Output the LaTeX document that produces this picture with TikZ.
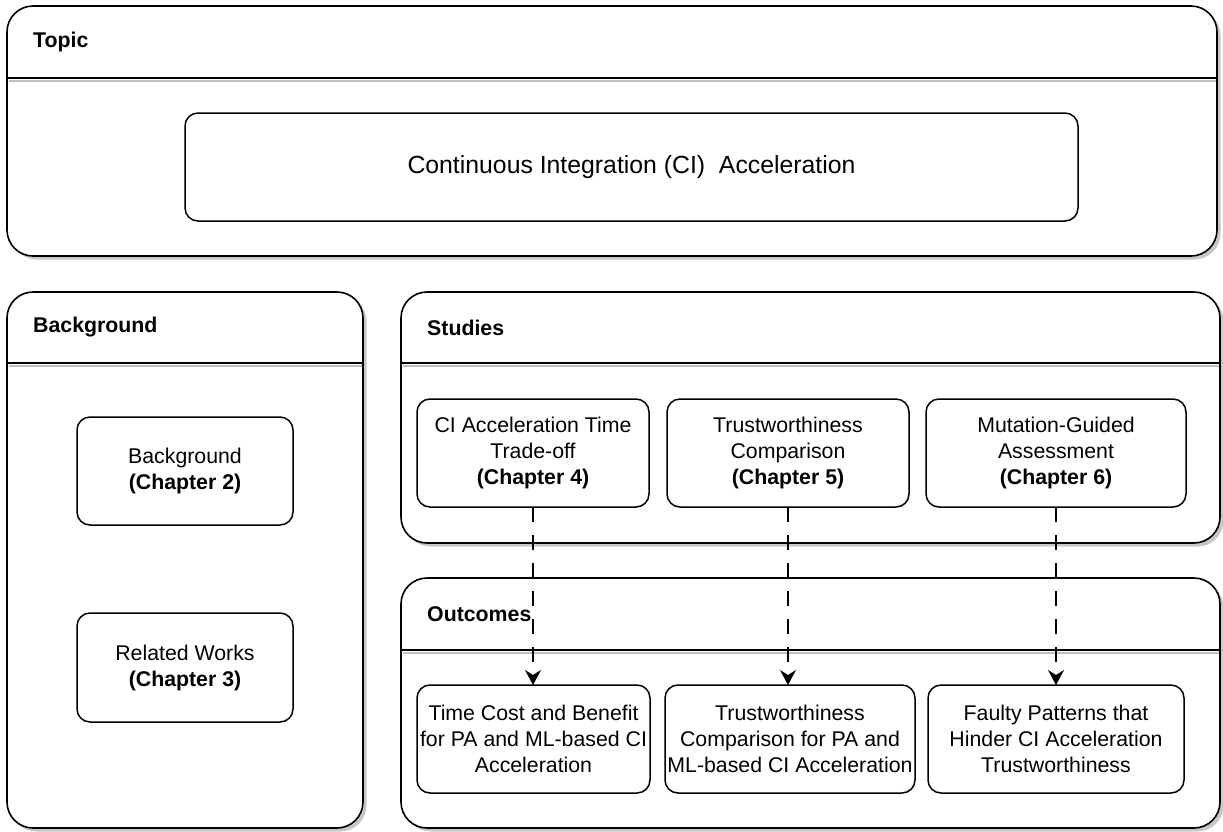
\documentclass[tikz,border=0pt]{standalone}
\usepackage{fontspec}
\setmainfont{Liberation Sans}
\usetikzlibrary{arrows.meta}
\newcommand\mylane[7]{%
  \fill[black!22, rounded corners=26pt] ({#2+3.5},{#3+3.5}) rectangle ({#4+3.5},{#5+3.5});
  \node[container, anchor=north west, minimum width={#4-#2}, minimum height={#5-#3}] (#1) at (#2,#3) {};
  \draw[black!25, line width=2.2pt] ({#2+1.5},{#6+3}) -- ({#4-1},{#6+3});
  \draw[line width=1.6pt] (#2,#6) -- (#4,#6);
  \node[lanetitle] (#1-title) at ({#2+26},{(#3+#6)/2}) {#7};
}
\begin{document}
\begin{tikzpicture}[x=1pt,y=-1pt,
  container/.style={draw=black, line width=1.6pt, fill=white, rounded corners=26pt, inner sep=0pt, outer sep=0pt},
  lanetitle/.style={font=\bfseries\fontsize{21.3}{26}\selectfont, anchor=west, inner sep=0pt},
  box/.style={draw=black, line width=1.5pt, rounded corners=13pt, fill=white, align=center,
    font=\fontsize{21.3}{26}\selectfont, inner sep=0pt, outer sep=0pt},
  flow/.style={line width=1.5pt, dash pattern=on 15pt off 13pt,
    -{Stealth[length=15pt,width=16pt,inset=5pt]}}
]
\useasboundingbox (0,0) rectangle (1223,831);

\mylane{topic}{7}{6}{1217}{256}{78}{Topic}
\mylane{background}{7}{292}{363}{828}{363}{Background}
\mylane{studies}{401}{292}{1220}{543}{363}{Studies}
\mylane{outcomes}{401}{578}{1220}{828}{650}{Outcomes}

\node[box, minimum width=893, minimum height=108, font=\fontsize{24.8}{30}\selectfont] (ci) at (631.5,167)
  {Continuous Integration (CI)\ \ Acceleration};

\node[box, minimum width=216, minimum height=108] (bg) at (185,471)
  {Background\\\textbf{(Chapter 2)}};
\node[box, minimum width=216, minimum height=109] (rw) at (185,667.5)
  {Related Works\\\textbf{(Chapter 3)}};

\node[box, minimum width=232, minimum height=108] (s1) at (533,453)
  {CI Acceleration Time\\Trade-off\\\textbf{(Chapter 4)}};
\node[box, minimum width=242, minimum height=108] (s2) at (788,453)
  {Trustworthiness\\Comparison\\\textbf{(Chapter 5)}};
\node[box, minimum width=260, minimum height=108] (s3) at (1056,453)
  {Mutation-Guided\\Assessment\\\textbf{(Chapter 6)}};

\node[box, minimum width=233, minimum height=108] (o1) at (533.5,739)
  {Time Cost and Benefit\\for PA and ML-based CI\\Acceleration};
\node[box, minimum width=250, minimum height=108] (o2) at (790,739)
  {Trustworthiness\\Comparison for PA and\\ML-based CI Acceleration};
\node[box, minimum width=256, minimum height=108] (o3) at (1056,739)
  {Faulty Patterns that\\Hinder CI Acceleration\\Trustworthiness};

\draw[flow] (s1.south) -- (s1.south |- o1.north);
\draw[flow] (s2.south) -- (s2.south |- o2.north);
\draw[flow] (s3.south) -- (s3.south |- o3.north);
\end{tikzpicture}
\end{document}
